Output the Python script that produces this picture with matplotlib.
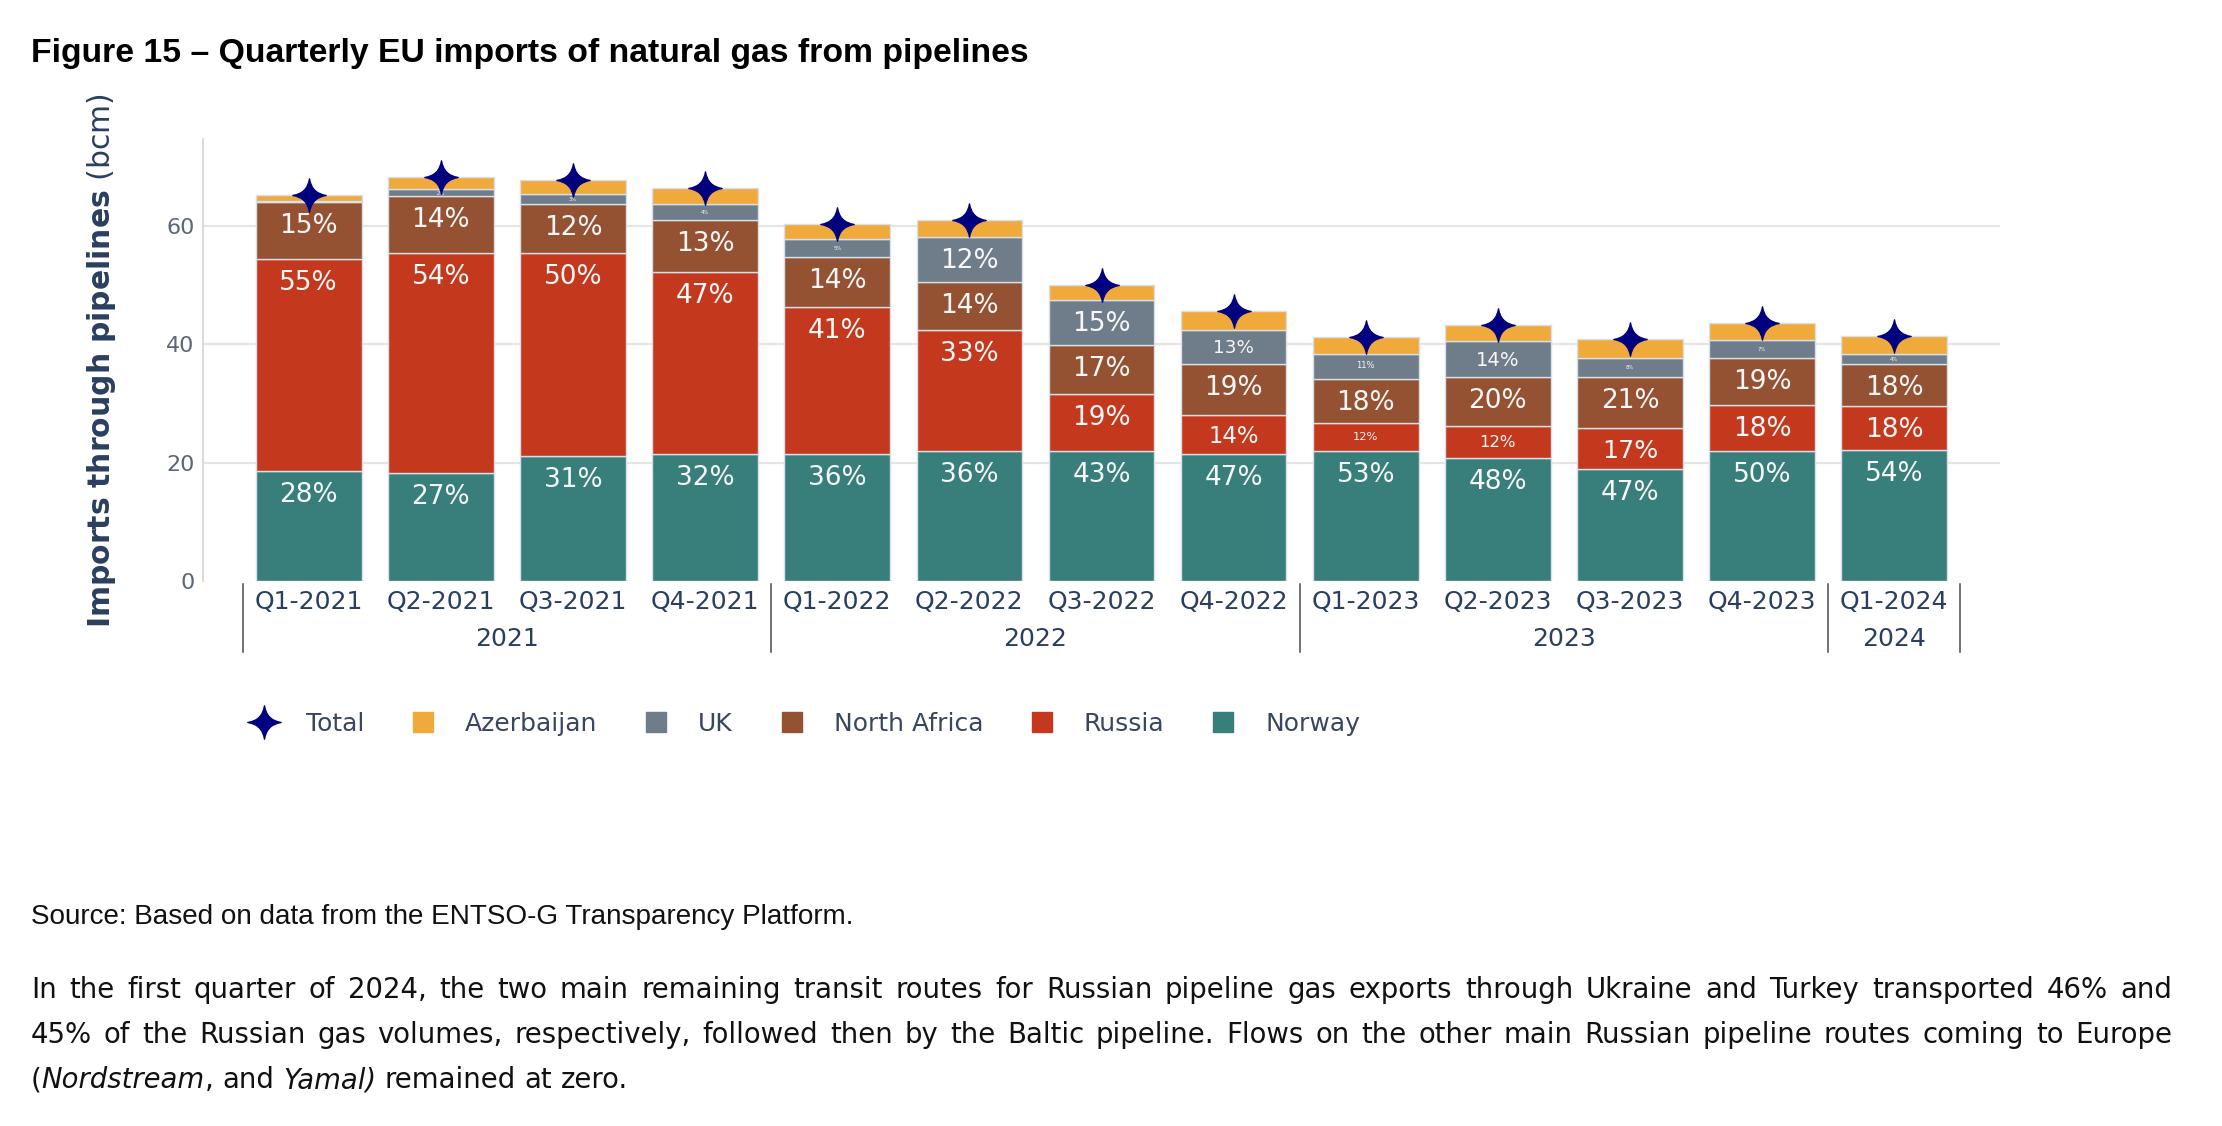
import matplotlib
matplotlib.use("Agg")
import matplotlib.pyplot as plt
from matplotlib.path import Path
from matplotlib.lines import Line2D
import numpy as np

# quarterly pipeline imports, bcm
quarters = ["Q1-2021", "Q2-2021", "Q3-2021", "Q4-2021",
            "Q1-2022", "Q2-2022", "Q3-2022", "Q4-2022",
            "Q1-2023", "Q2-2023", "Q3-2023", "Q4-2023", "Q1-2024"]
norway = [18.6, 18.3, 21.1, 21.4, 21.5, 21.9, 21.9, 21.5, 21.9, 20.7, 18.9, 21.9, 22.1]
russia = [35.7, 37.0, 34.2, 30.7, 24.8, 20.4, 9.6, 6.5, 4.7, 5.5, 6.9, 7.8, 7.4]
north_africa = [9.6, 9.7, 8.3, 8.9, 8.3, 8.2, 8.3, 8.6, 7.5, 8.3, 8.7, 7.9, 7.1]
uk = [0.2, 1.1, 1.7, 2.6, 3.2, 7.6, 7.6, 5.8, 4.2, 6.0, 3.2, 3.0, 1.7]
azerbaijan = [1.0, 2.1, 2.4, 2.8, 2.4, 2.9, 2.6, 3.1, 2.9, 2.7, 3.1, 3.0, 3.1]

# share labels as printed in the bars
norway_lbl = ["28%", "27%", "31%", "32%", "36%", "36%", "43%", "47%", "53%", "48%", "47%", "50%", "54%"]
russia_lbl = ["55%", "54%", "50%", "47%", "41%", "33%", "19%", "14%", "12%", "12%", "17%", "18%", "18%"]
north_africa_lbl = ["15%", "14%", "12%", "13%", "14%", "14%", "17%", "19%", "18%", "20%", "21%", "19%", "18%"]
uk_lbl = ["", "2%", "3%", "4%", "5%", "12%", "15%", "13%", "11%", "14%", "8%", "7%", "4%"]

yticks = [0, 20, 40, 60]

title = "Figure 15 \u2013 Quarterly EU imports of natural gas from pipelines"
source = "Source: Based on data from the ENTSO-G Transparency Platform."
para = [
    "In the first quarter of 2024, the two main remaining transit routes for Russian pipeline gas exports through Ukraine and Turkey transported 46% and",
    "45% of the Russian gas volumes, respectively, followed then by the Baltic pipeline. Flows on the other main Russian pipeline routes coming to Europe",
    "(_Nordstream_, and _Yamal)_ remained at zero.",
]

colors = {
    "Norway": "#387f7c",
    "Russia": "#c4391d",
    "North Africa": "#945233",
    "UK": "#6f7d8b",
    "Azerbaijan": "#f0a93b",
    "Total": "#00007f",
}
TXT = "#2a3f5f"
BODY = ["DejaVu Sans"]
HEAD = ["Liberation Sans", "DejaVu Sans"]

W, H = 2222, 1126
fig = plt.figure(figsize=(W / 100, H / 100), dpi=100)
renderer = fig.canvas.get_renderer()
ax = fig.add_axes([203 / W, 1 - 581 / H, (2000 - 203) / W, (581 - 139) / H])
ax.set_xlim(-0.8, len(quarters) - 0.2)
ax.set_ylim(0, 74.6)
px_unit = ax.transData.transform((0, 1))[1] - ax.transData.transform((0, 0))[1]

# 4 point star like plotly's star-diamond
c = 0.13
star = Path([(0, 1), (c, c), (1, 0), (c, -c), (0, -1), (-c, -c), (-1, 0), (-c, c), (0, 1), (0, 1)],
            [Path.MOVETO] + [Path.CURVE3] * 8 + [Path.CLOSEPOLY])

x = np.arange(len(quarters))
bottom = np.zeros(len(quarters))
series = [("Norway", norway, norway_lbl), ("Russia", russia, russia_lbl),
          ("North Africa", north_africa, north_africa_lbl), ("UK", uk, uk_lbl),
          ("Azerbaijan", azerbaijan, None)]
for name, vals, lbls in series:
    vals = np.array(vals)
    ax.bar(x, vals, 0.8, bottom=bottom, color=colors[name], edgecolor="#d9dfe6", linewidth=1.0, zorder=2)
    if lbls:
        for i, lab in enumerate(lbls):
            if not lab:
                continue
            seg = vals[i] * px_unit
            s = min(1.0, max(0.2, (seg - 17) / 25))
            off = min(6 + 25 * s, seg / 2 + 9.5 * s)
            ax.annotate(lab, xy=(x[i], bottom[i] + vals[i]), xytext=(0, -off * 0.72),
                        textcoords="offset points", ha="center", va="baseline",
                        fontsize=19 * s, color="#f7f7f7", zorder=4)
    bottom += vals

total = bottom.copy()
ax.plot(x, total, ls="none", marker=star, markersize=24, color=colors["Total"], zorder=5, clip_on=False)

# axes styling
for side in ["top", "right", "bottom"]:
    ax.spines[side].set_visible(False)
ax.spines["left"].set_color("#d4d4d4")
ax.spines["left"].set_linewidth(1.2)
for v in yticks[1:]:
    ax.axhline(v, color="#e5e5e5", lw=1.6, zorder=0)
ax.set_yticks(yticks)
ax.tick_params(axis="y", length=0, pad=6, labelsize=16, labelcolor="#5b6677")
ax.set_xticks(x, quarters)
ax.tick_params(axis="x", length=0, pad=6.5, labelsize=18, labelcolor=TXT)

# year groups under the quarters
years = [q.split("-")[1] for q in quarters]
groups = sorted(set(years))
edges = []
for yr in groups:
    idx = [i for i, v in enumerate(years) if v == yr]
    ax.annotate(yr, xy=(np.mean(idx), 0), xycoords=("data", "axes fraction"),
                xytext=(0, -65 * 0.72), textcoords="offset points",
                ha="center", va="baseline", fontsize=18, color=TXT)
    edges.append(min(idx) - 0.5)
edges.append(len(quarters) - 0.5)
trans = ax.get_xaxis_transform()
for e in edges:
    ax.plot([e, e], [-3 / 442, -71 / 442], color="#4a4a4a", lw=1.1, transform=trans, clip_on=False)

fig.text(102 / W, 1 - 361 / H, r"$\mathbf{Imports\ through\ pipelines}$ (bcm)", rotation=90,
         ha="center", va="center", fontsize=21.5, color=TXT)

# legend
handles = [Line2D([], [], ls="none", marker=star, markersize=24, color=colors["Total"])]
names = ["Total", "Azerbaijan", "UK", "North Africa", "Russia", "Norway"]
for n in names[1:]:
    handles.append(Line2D([], [], ls="none", marker="s", markersize=15, color=colors[n]))
fig.legend(handles, names, loc="center left", bbox_to_anchor=(251.5 / W, 1 - 724 / H), ncol=6,
           frameon=False, fontsize=18, handlelength=1.0, handletextpad=1.18, columnspacing=1.85,
           borderpad=0, borderaxespad=0, labelcolor="#3a4660")


def text_w(s, **kw):
    t = fig.text(0, 0, s, **kw)
    w = t.get_window_extent(renderer=renderer).width
    t.remove()
    return w


def fit(s, target, **kw):
    return 20 * target / text_w(s, fontsize=20, **kw)


tsize = fit(title, 996, family=HEAD, weight="bold")
fig.text(31 / W, 1 - 62 / H, title, fontsize=tsize, family=HEAD, weight="bold", va="baseline")


def parse(line):
    words = [[]]
    for k, chunk in enumerate(line.split("_")):
        st = "italic" if k % 2 else "normal"
        for j, p in enumerate(chunk.split(" ")):
            if j > 0:
                words.append([])
            if p:
                words[-1].append((p, st))
    return [w for w in words if w]


ssize = fit(source, 823, family=HEAD)
fig.text(31 / W, 1 - 924 / H, source, fontsize=ssize, family=HEAD, va="baseline", color="#111111")

# body size chosen so the first justified line has near natural spacing
bsize = fit(para[0], 2050, family=BODY)
space = text_w("a a", fontsize=bsize, family=BODY) - text_w("aa", fontsize=bsize, family=BODY)
left, right = 31, 2172
for li, line in enumerate(para):
    words = parse(line)
    widths = [[text_w(t, fontsize=bsize, family=BODY, style=st) for t, st in w] for w in words]
    tot = sum(sum(w) for w in widths)
    gap = (right - left - tot) / (len(words) - 1) if li < len(para) - 1 else space
    xp = left
    base = 998 + 45 * li
    for w, ws in zip(words, widths):
        xx = xp
        for (t, st), tw in zip(w, ws):
            fig.text(xx / W, 1 - base / H, t, fontsize=bsize, family=BODY, style=st,
                     va="baseline", color="#111111")
            xx += tw
        xp += sum(ws) + gap

fig.savefig("out.png", dpi=100)
